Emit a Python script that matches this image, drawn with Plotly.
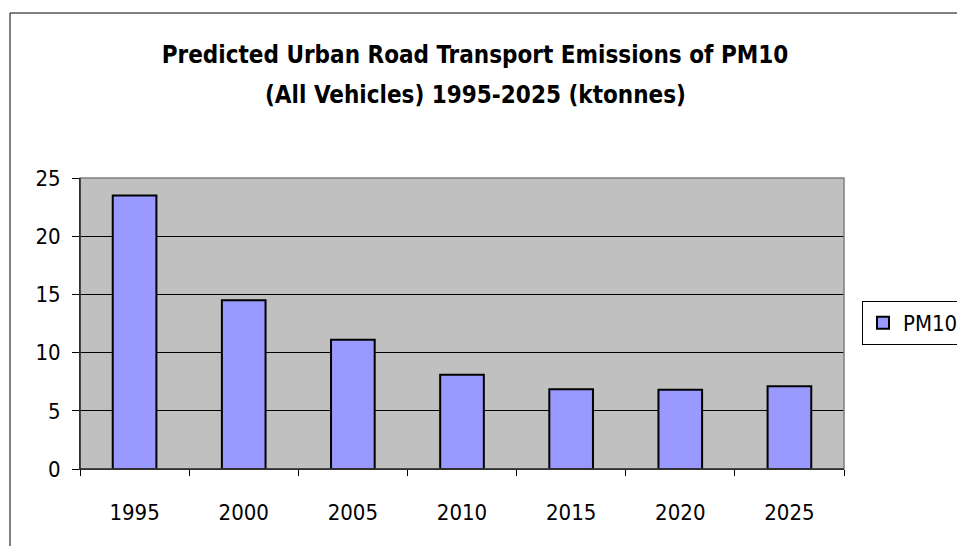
import plotly.graph_objects as go

years = ["1995", "2000", "2005", "2010", "2015", "2020", "2025"]
pm10 = [23.5, 14.5, 11.1, 8.1, 6.85, 6.8, 7.1]
title_lines = ["Predicted Urban Road Transport Emissions of PM10",
               "(All Vehicles) 1995-2025 (ktonnes)"]

W, H = 957, 546
L, R, T, B = 80, 113, 178, 77
pw, ph = W - L - R, H - T - B
FONT = "DejaVu Sans Condensed, DejaVu Sans"

def px_x(x):
    return (x - L) / pw

def px_y(y):
    return (H - B - y) / ph

fig = go.Figure()
fig.add_trace(go.Bar(
    x=years, y=pm10, name="PM10",
    marker=dict(color="#9999FF", line=dict(color="black", width=2)),
    showlegend=True,
))

fig.update_layout(
    width=W, height=H,
    margin=dict(l=L, r=R, t=T, b=B, pad=0, autoexpand=False),
    paper_bgcolor="white",
    plot_bgcolor="#C0C0C0",
    bargap=0.6,
    font=dict(family=FONT, size=22, color="black"),
    title=dict(
        text="<b>" + title_lines[0] + "</b>",
        x=475 / W, xanchor="center", xref="container",
        y=1 - 55 / H, yanchor="middle",
        font=dict(family=FONT, size=24, color="black"),
    ),
    annotations=[
        dict(text="<b>" + title_lines[1] + "</b>", xref="paper", yref="paper",
             x=px_x(475), y=px_y(95), xanchor="center", yanchor="middle",
             showarrow=False, font=dict(family=FONT, size=24, color="black")),
    ],
    showlegend=True,
    legend=dict(
        x=px_x(862), y=px_y(323), xanchor="left", yanchor="middle",
        bordercolor="black", borderwidth=1, bgcolor="white",
        font=dict(family=FONT, size=22),
        itemwidth=30,
    ),
    xaxis=dict(
        type="category",
        showgrid=False,
        showline=True, linecolor="black", linewidth=1,
        ticks="outside", tickson="boundaries", ticklen=6, tickcolor="black",
        ticklabelstandoff=24,
        tickfont=dict(family=FONT, size=22),
    ),
    yaxis=dict(
        range=[0, 25], dtick=5, tick0=0,
        showgrid=True, gridcolor="black", gridwidth=1,
        showline=True, linecolor="black", linewidth=1,
        ticks="outside", ticklen=7, tickcolor="black",
        ticklabelstandoff=7,
        zeroline=False,
        tickfont=dict(family=FONT, size=22),
    ),
    shapes=[
        dict(type="rect", xref="paper", yref="paper", x0=0, x1=1, y0=0, y1=1,
             line=dict(color="#808080", width=1.5), layer="above"),
        dict(type="line", xref="paper", yref="paper", x0=0, x1=0, y0=0, y1=1,
             line=dict(color="black", width=1), layer="above"),
        dict(type="line", xref="paper", yref="paper", x0=0, x1=1, y0=0, y1=0,
             line=dict(color="black", width=1), layer="above"),
        dict(type="rect", xref="paper", yref="paper",
             x0=px_x(10), x1=px_x(W + 20), y0=px_y(H + 20), y1=px_y(13),
             line=dict(color="black", width=1), layer="below"),
    ],
)

fig.write_html("out.html", config={"displayModeBar": False},
               post_script="document.body.style.margin='0px';document.body.style.overflow='hidden';")
